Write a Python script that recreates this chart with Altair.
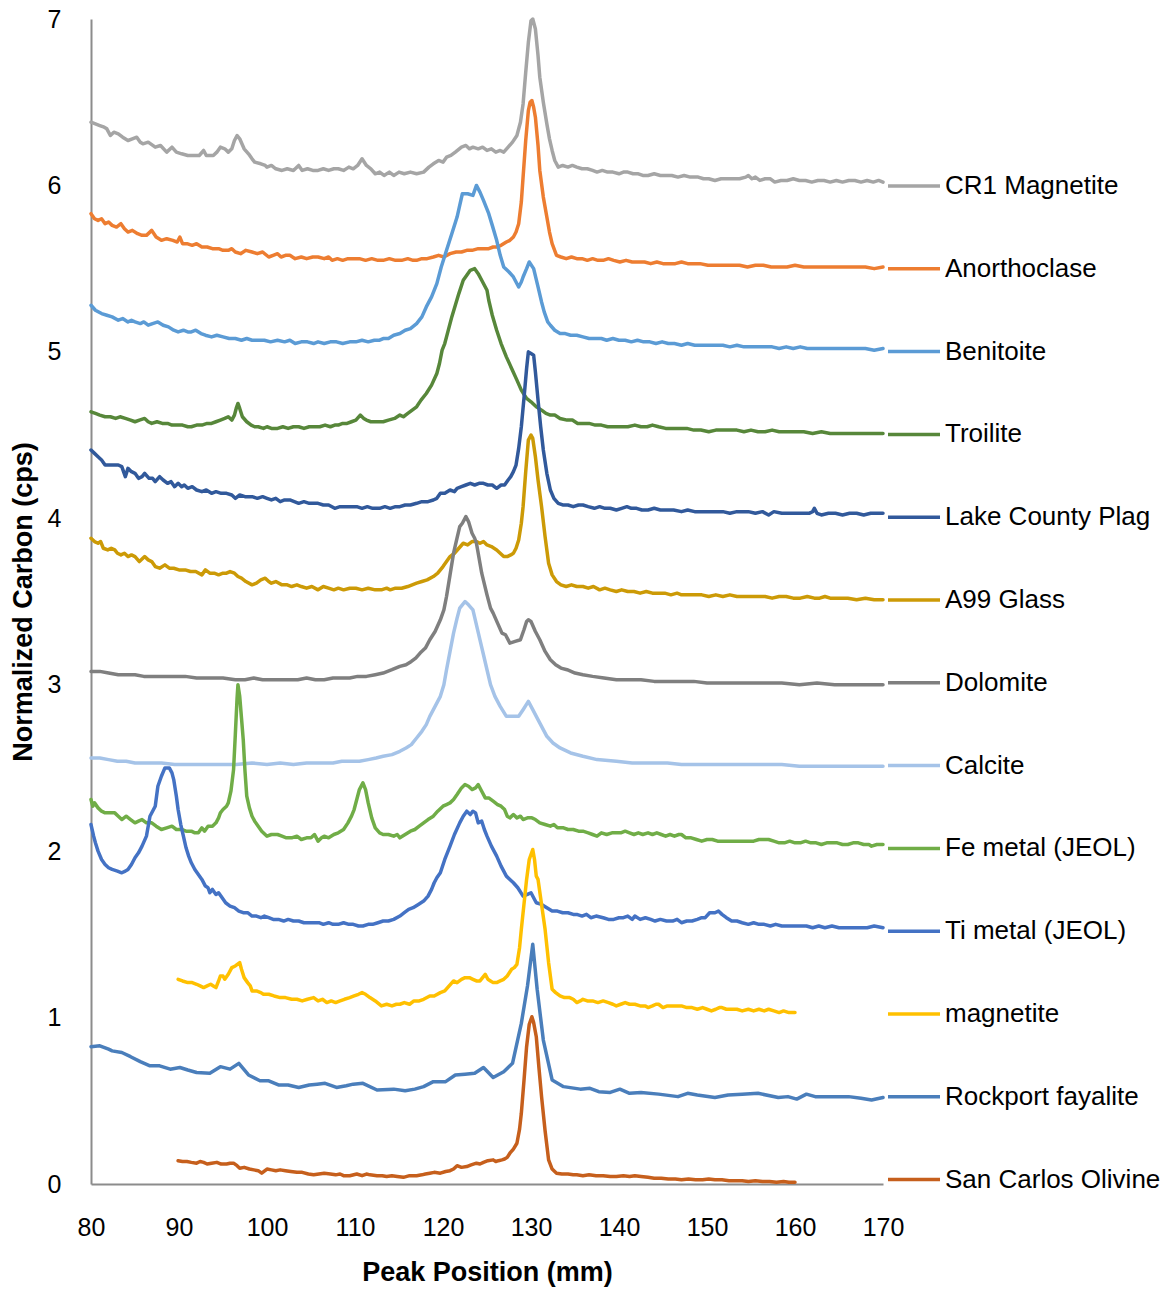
import altair as alt
import pandas as pd

# Sample names (legend order, top to bottom) and their line colours
SAMPLE_NAMES = [
    "CR1 Magnetite", "Anorthoclase", "Benitoite", "Troilite",
    "Lake County Plag", "A99 Glass", "Dolomite", "Calcite",
    "Fe metal (JEOL)", "Ti metal (JEOL)", "magnetite",
    "Rockport fayalite", "San Carlos Olivine",
]
SAMPLE_COLORS = [
    "#A5A5A5", "#ED7D31", "#5B9BD5", "#57873A",
    "#31599B", "#CC9A06", "#7F7F7F", "#A5C3E8",
    "#70AD47", "#4472C4", "#FFC000",
    "#4A7EBB", "#C65F1C",
]

X_TICKS = [80, 90, 100, 110, 120, 130, 140, 150, 160, 170]
Y_TICKS = [0, 1, 2, 3, 4, 5, 6, 7]

# (peak position mm, normalized carbon cps) for each scan
CR1_MAGNETITE = [
    (80.0, 6.38), (80.5, 6.37), (81.0, 6.36), (81.5, 6.35), (81.8, 6.34), (82.2, 6.30), (82.6, 6.32),
    (83.1, 6.31), (83.6, 6.29), (84.2, 6.27), (84.7, 6.28), (85.2, 6.29), (85.6, 6.26), (85.9, 6.25),
    (86.5, 6.26), (87.3, 6.23), (87.9, 6.24), (88.6, 6.20), (89.2, 6.23), (89.7, 6.20), (90.3, 6.19),
    (91.0, 6.18), (91.8, 6.18), (92.3, 6.18), (92.8, 6.21), (93.1, 6.18), (93.9, 6.18), (94.3, 6.20),
    (94.7, 6.23), (95.2, 6.22), (95.6, 6.20), (96.0, 6.22), (96.3, 6.27), (96.6, 6.30), (96.9, 6.28),
    (97.4, 6.22), (97.9, 6.19), (98.3, 6.16), (98.6, 6.14), (99.3, 6.13), (99.8, 6.12), (100.0, 6.11),
    (100.5, 6.12), (101.0, 6.10), (101.7, 6.09), (102.3, 6.10), (103.0, 6.09), (103.6, 6.12), (104.0, 6.09),
    (104.6, 6.10), (105.2, 6.09), (105.8, 6.09), (106.4, 6.10), (107.0, 6.09), (107.6, 6.10), (108.1, 6.10),
    (108.7, 6.09), (109.3, 6.11), (109.8, 6.10), (110.3, 6.12), (110.8, 6.16), (111.3, 6.12), (111.8, 6.10),
    (112.3, 6.07), (112.8, 6.08), (113.3, 6.06), (113.9, 6.08), (114.4, 6.06), (115.0, 6.08), (115.6, 6.07),
    (116.3, 6.08), (117.0, 6.07), (117.8, 6.08), (118.4, 6.11), (118.9, 6.13), (119.5, 6.15), (120.0, 6.14),
    (120.4, 6.17), (120.9, 6.18), (121.4, 6.20), (122.1, 6.23), (122.6, 6.24), (123.0, 6.22), (123.4, 6.23),
    (124.0, 6.22), (124.5, 6.23), (125.0, 6.21), (125.5, 6.22), (126.0, 6.20), (126.5, 6.21), (126.9, 6.20),
    (127.4, 6.23), (127.9, 6.26), (128.4, 6.30), (128.8, 6.38), (129.1, 6.49), (129.4, 6.68), (129.7, 6.86),
    (130.0, 6.99), (130.2, 7.00), (130.5, 6.94), (130.8, 6.78), (131.0, 6.65), (131.4, 6.50), (131.8, 6.37),
    (132.1, 6.28), (132.4, 6.21), (132.7, 6.15), (133.1, 6.11), (133.6, 6.12), (134.2, 6.11), (134.7, 6.12),
    (135.2, 6.11), (135.8, 6.10), (136.4, 6.10), (137.0, 6.09), (137.5, 6.08), (138.1, 6.09), (138.7, 6.08),
    (139.3, 6.08), (140.0, 6.07), (140.5, 6.08), (141.0, 6.08), (141.6, 6.07), (142.2, 6.07), (142.7, 6.06),
    (143.3, 6.06), (144.0, 6.07), (144.7, 6.06), (145.4, 6.06), (146.0, 6.06), (146.7, 6.05), (147.4, 6.06),
    (148.1, 6.05), (149.0, 6.05), (149.6, 6.04), (150.2, 6.04), (150.9, 6.03), (151.6, 6.04), (152.3, 6.04),
    (153.0, 6.04), (153.7, 6.04), (154.4, 6.05), (154.7, 6.06), (155.1, 6.04), (155.5, 6.05), (156.0, 6.03),
    (156.6, 6.04), (157.2, 6.04), (157.7, 6.02), (158.4, 6.03), (159.1, 6.03), (159.8, 6.04), (160.5, 6.03),
    (161.2, 6.03), (161.9, 6.02), (162.6, 6.03), (163.3, 6.03), (164.0, 6.02), (164.7, 6.03), (165.4, 6.02),
    (166.1, 6.03), (166.8, 6.03), (167.5, 6.02), (168.2, 6.03), (168.9, 6.02), (169.5, 6.03), (170.0, 6.02),
]

ANORTHOCLASE = [
    (80.0, 5.83), (80.4, 5.80), (80.8, 5.79), (81.2, 5.80), (81.6, 5.77), (82.0, 5.78), (82.4, 5.76),
    (82.9, 5.75), (83.4, 5.77), (83.8, 5.74), (84.2, 5.72), (84.7, 5.73), (85.3, 5.71), (85.8, 5.70),
    (86.3, 5.70), (86.9, 5.73), (87.4, 5.69), (88.0, 5.67), (88.6, 5.68), (89.3, 5.67), (89.8, 5.66),
    (90.1, 5.69), (90.4, 5.65), (90.9, 5.65), (91.5, 5.64), (92.0, 5.65), (92.6, 5.63), (93.2, 5.63),
    (93.8, 5.62), (94.5, 5.62), (95.0, 5.61), (95.6, 5.61), (96.0, 5.62), (96.4, 5.60), (97.0, 5.59),
    (97.6, 5.61), (98.3, 5.60), (98.9, 5.59), (99.5, 5.60), (100.2, 5.57), (100.7, 5.58), (101.2, 5.59),
    (101.6, 5.57), (102.1, 5.58), (102.6, 5.58), (103.2, 5.56), (103.9, 5.57), (104.5, 5.56), (105.2, 5.57),
    (105.8, 5.57), (106.5, 5.56), (107.0, 5.57), (107.4, 5.55), (108.0, 5.56), (108.6, 5.55), (109.2, 5.56),
    (109.8, 5.56), (110.5, 5.56), (111.2, 5.55), (111.9, 5.56), (112.6, 5.55), (113.2, 5.55), (113.9, 5.56),
    (114.6, 5.55), (115.3, 5.55), (116.0, 5.56), (116.6, 5.55), (117.0, 5.55), (117.6, 5.56), (118.2, 5.56),
    (118.9, 5.57), (119.5, 5.58), (120.1, 5.57), (120.8, 5.59), (121.5, 5.60), (122.1, 5.60), (122.7, 5.61),
    (123.3, 5.61), (124.0, 5.62), (124.6, 5.62), (125.2, 5.62), (125.7, 5.63), (126.1, 5.63), (126.6, 5.64),
    (127.2, 5.66), (127.6, 5.67), (128.0, 5.69), (128.3, 5.72), (128.6, 5.77), (128.9, 5.90), (129.1, 6.05),
    (129.4, 6.27), (129.7, 6.45), (129.9, 6.50), (130.1, 6.51), (130.3, 6.47), (130.5, 6.41), (130.8, 6.24),
    (131.0, 6.09), (131.4, 5.93), (131.8, 5.81), (132.1, 5.72), (132.4, 5.65), (132.9, 5.58), (133.4, 5.57),
    (134.0, 5.56), (134.6, 5.57), (135.2, 5.56), (135.8, 5.56), (136.4, 5.55), (137.0, 5.56), (137.6, 5.55),
    (138.2, 5.55), (138.8, 5.56), (139.4, 5.55), (140.1, 5.54), (140.8, 5.55), (141.5, 5.54), (142.2, 5.54),
    (142.9, 5.54), (143.6, 5.53), (144.3, 5.54), (145.0, 5.53), (145.7, 5.53), (146.4, 5.53), (147.1, 5.54),
    (147.8, 5.53), (148.5, 5.53), (149.2, 5.53), (150.1, 5.52), (151.0, 5.52), (151.9, 5.52), (152.8, 5.52),
    (153.7, 5.52), (154.6, 5.51), (155.5, 5.52), (156.4, 5.52), (157.3, 5.51), (158.2, 5.51), (159.1, 5.51),
    (160.0, 5.52), (161.0, 5.51), (162.0, 5.51), (163.0, 5.51), (164.0, 5.51), (165.0, 5.51), (166.0, 5.51),
    (167.0, 5.51), (168.0, 5.51), (169.0, 5.50), (170.0, 5.51),
]

BENITOITE = [
    (80.0, 5.28), (80.5, 5.25), (81.2, 5.23), (81.8, 5.22), (82.4, 5.21), (83.1, 5.19), (83.6, 5.20),
    (84.2, 5.18), (84.6, 5.19), (85.0, 5.18), (85.6, 5.17), (86.0, 5.18), (86.5, 5.16), (87.0, 5.17),
    (87.6, 5.18), (88.2, 5.16), (88.8, 5.15), (89.4, 5.13), (89.9, 5.12), (90.5, 5.13), (91.0, 5.12),
    (91.4, 5.12), (91.9, 5.13), (92.5, 5.11), (93.0, 5.10), (93.7, 5.09), (94.3, 5.10), (95.0, 5.09),
    (95.7, 5.08), (96.4, 5.08), (97.1, 5.07), (97.7, 5.08), (98.3, 5.07), (99.0, 5.07), (99.7, 5.07),
    (100.4, 5.06), (101.2, 5.07), (102.0, 5.06), (102.6, 5.07), (103.2, 5.05), (103.9, 5.06), (104.6, 5.06),
    (105.3, 5.05), (105.8, 5.06), (106.5, 5.05), (107.2, 5.06), (107.9, 5.06), (108.6, 5.05), (109.4, 5.06),
    (110.1, 5.06), (110.8, 5.07), (111.5, 5.06), (112.2, 5.07), (112.8, 5.07), (113.2, 5.08), (113.8, 5.08),
    (114.4, 5.10), (115.1, 5.11), (115.7, 5.13), (116.3, 5.14), (117.0, 5.17), (117.6, 5.21), (118.1, 5.27),
    (118.7, 5.33), (119.3, 5.41), (119.8, 5.51), (120.4, 5.61), (121.0, 5.71), (121.6, 5.81), (121.9, 5.88),
    (122.2, 5.95), (122.8, 5.95), (123.4, 5.94), (123.6, 5.97), (123.8, 6.00), (124.2, 5.96), (124.6, 5.91),
    (125.2, 5.83), (125.6, 5.76), (126.1, 5.67), (126.5, 5.58), (126.9, 5.51), (127.5, 5.48), (128.0, 5.45),
    (128.3, 5.42), (128.6, 5.39), (128.9, 5.42), (129.1, 5.45), (129.5, 5.50), (129.8, 5.54), (130.3, 5.50),
    (130.8, 5.39), (131.2, 5.30), (131.5, 5.24), (131.9, 5.18), (132.2, 5.16), (132.7, 5.13), (133.3, 5.11),
    (133.9, 5.11), (134.5, 5.10), (135.2, 5.10), (135.9, 5.09), (136.6, 5.08), (137.3, 5.08), (138.0, 5.08),
    (138.6, 5.07), (139.3, 5.08), (140.0, 5.07), (140.7, 5.07), (141.4, 5.06), (142.1, 5.07), (142.8, 5.06),
    (143.5, 5.06), (144.2, 5.05), (144.9, 5.06), (145.6, 5.05), (146.3, 5.05), (147.1, 5.04), (147.8, 5.05),
    (148.6, 5.04), (149.4, 5.04), (150.2, 5.04), (151.0, 5.04), (151.8, 5.04), (152.6, 5.03), (153.4, 5.04),
    (154.2, 5.03), (155.0, 5.03), (155.8, 5.03), (156.6, 5.03), (157.4, 5.03), (158.2, 5.02), (159.0, 5.03),
    (159.8, 5.02), (160.6, 5.03), (161.4, 5.02), (162.2, 5.02), (163.0, 5.02), (164.0, 5.02), (165.0, 5.02),
    (166.0, 5.02), (167.0, 5.02), (168.0, 5.02), (169.0, 5.01), (170.0, 5.02),
]

TROILITE = [
    (80.0, 4.64), (80.5, 4.63), (81.0, 4.62), (81.6, 4.61), (82.2, 4.61), (82.8, 4.60), (83.3, 4.61),
    (83.9, 4.60), (84.5, 4.59), (85.0, 4.58), (85.5, 4.59), (86.1, 4.60), (86.5, 4.58), (86.9, 4.57),
    (87.5, 4.58), (88.1, 4.57), (88.7, 4.57), (89.2, 4.56), (89.8, 4.56), (90.4, 4.56), (91.0, 4.55),
    (91.4, 4.55), (92.0, 4.56), (92.6, 4.56), (93.2, 4.57), (93.7, 4.57), (94.2, 4.58), (94.7, 4.59),
    (95.2, 4.60), (95.6, 4.61), (96.0, 4.59), (96.3, 4.62), (96.5, 4.66), (96.7, 4.69), (96.9, 4.66),
    (97.2, 4.61), (97.7, 4.58), (98.2, 4.56), (98.6, 4.55), (99.0, 4.55), (99.6, 4.54), (100.0, 4.55),
    (100.5, 4.54), (101.2, 4.54), (101.8, 4.55), (102.4, 4.54), (103.0, 4.55), (103.6, 4.55), (104.2, 4.54),
    (104.8, 4.55), (105.4, 4.55), (106.0, 4.55), (106.6, 4.56), (107.2, 4.55), (107.7, 4.56), (108.1, 4.56),
    (108.6, 4.57), (109.1, 4.57), (109.6, 4.58), (110.1, 4.59), (110.6, 4.62), (111.0, 4.60), (111.3, 4.59),
    (111.8, 4.58), (112.4, 4.58), (113.2, 4.58), (113.8, 4.59), (114.5, 4.60), (115.1, 4.62), (115.5, 4.61),
    (116.0, 4.63), (116.5, 4.65), (117.0, 4.67), (117.5, 4.71), (118.1, 4.75), (118.7, 4.80), (119.3, 4.87),
    (119.6, 4.93), (119.9, 5.01), (120.2, 5.05), (120.4, 5.09), (121.0, 5.21), (121.4, 5.28), (121.8, 5.35),
    (122.3, 5.43), (122.7, 5.46), (123.1, 5.49), (123.6, 5.50), (124.0, 5.47), (124.4, 5.43), (125.0, 5.37),
    (125.2, 5.31), (125.6, 5.22), (126.1, 5.13), (126.6, 5.05), (127.2, 4.97), (127.8, 4.90), (128.4, 4.83),
    (128.9, 4.77), (129.5, 4.72), (130.0, 4.70), (130.6, 4.67), (131.2, 4.65), (131.7, 4.63), (132.2, 4.62),
    (132.7, 4.62), (133.3, 4.60), (134.1, 4.59), (134.7, 4.59), (135.3, 4.57), (135.9, 4.57), (136.6, 4.57),
    (137.3, 4.56), (138.0, 4.56), (138.7, 4.55), (139.5, 4.55), (140.3, 4.55), (141.0, 4.55), (141.8, 4.56),
    (142.5, 4.55), (143.2, 4.55), (143.8, 4.56), (144.5, 4.55), (145.3, 4.54), (146.1, 4.54), (146.9, 4.54),
    (147.7, 4.54), (148.5, 4.53), (149.3, 4.53), (150.2, 4.52), (151.0, 4.53), (151.8, 4.53), (152.6, 4.53),
    (153.4, 4.53), (154.2, 4.52), (155.0, 4.53), (155.8, 4.52), (156.6, 4.52), (157.4, 4.53), (158.2, 4.52),
    (159.0, 4.52), (160.0, 4.52), (161.0, 4.52), (162.0, 4.51), (163.0, 4.52), (164.0, 4.51), (165.0, 4.51),
    (166.0, 4.51), (167.0, 4.51), (168.0, 4.51), (169.0, 4.51), (170.0, 4.51),
]

LAKE_COUNTY_PLAG = [
    (80.0, 4.41), (80.4, 4.39), (80.8, 4.37), (81.2, 4.35), (81.6, 4.32), (82.0, 4.32), (82.5, 4.32),
    (83.1, 4.32), (83.5, 4.31), (83.9, 4.25), (84.2, 4.30), (84.6, 4.28), (85.0, 4.27), (85.4, 4.24),
    (85.8, 4.25), (86.1, 4.27), (86.6, 4.24), (87.0, 4.24), (87.3, 4.22), (87.8, 4.25), (88.2, 4.23),
    (88.7, 4.21), (89.1, 4.22), (89.5, 4.19), (89.9, 4.21), (90.3, 4.19), (90.6, 4.20), (91.0, 4.18),
    (91.5, 4.19), (92.0, 4.17), (92.6, 4.16), (93.1, 4.17), (93.7, 4.15), (94.2, 4.16), (94.8, 4.15),
    (95.4, 4.15), (96.0, 4.14), (96.4, 4.12), (96.9, 4.14), (97.5, 4.13), (98.3, 4.13), (98.9, 4.12),
    (99.5, 4.13), (100.0, 4.12), (100.5, 4.11), (101.0, 4.12), (101.5, 4.10), (102.0, 4.11), (102.6, 4.11),
    (103.1, 4.10), (103.6, 4.09), (104.2, 4.10), (104.8, 4.09), (105.3, 4.09), (105.8, 4.09), (106.4, 4.08),
    (107.0, 4.08), (107.7, 4.06), (108.3, 4.07), (108.9, 4.07), (109.6, 4.07), (110.2, 4.07), (110.8, 4.06),
    (111.4, 4.07), (112.0, 4.06), (112.8, 4.06), (113.4, 4.07), (114.0, 4.06), (114.6, 4.07), (115.1, 4.07),
    (115.7, 4.08), (116.3, 4.08), (117.0, 4.09), (117.6, 4.10), (118.3, 4.10), (118.9, 4.11), (119.3, 4.12),
    (119.7, 4.15), (120.2, 4.15), (120.8, 4.17), (121.3, 4.16), (121.6, 4.18), (122.1, 4.19), (122.6, 4.20),
    (123.1, 4.21), (123.6, 4.20), (124.1, 4.21), (124.6, 4.21), (125.1, 4.20), (125.6, 4.20), (126.1, 4.18),
    (126.6, 4.20), (127.0, 4.20), (127.4, 4.23), (127.7, 4.25), (128.0, 4.28), (128.3, 4.32), (128.6, 4.42),
    (128.9, 4.55), (129.2, 4.72), (129.5, 4.90), (129.7, 5.00), (130.0, 4.99), (130.3, 4.98), (130.5, 4.88),
    (130.8, 4.71), (131.1, 4.55), (131.4, 4.41), (131.8, 4.27), (132.2, 4.17), (132.6, 4.12), (133.1, 4.09),
    (133.6, 4.08), (134.2, 4.08), (134.8, 4.07), (135.4, 4.08), (135.9, 4.08), (136.5, 4.07), (137.2, 4.06),
    (137.8, 4.07), (138.4, 4.06), (139.0, 4.06), (139.7, 4.05), (140.3, 4.06), (140.9, 4.07), (141.4, 4.06),
    (142.0, 4.06), (142.6, 4.05), (143.3, 4.05), (144.0, 4.06), (144.7, 4.05), (145.4, 4.05), (146.2, 4.05),
    (147.1, 4.04), (147.8, 4.05), (148.6, 4.04), (149.4, 4.04), (150.2, 4.04), (151.0, 4.04), (151.8, 4.04),
    (152.6, 4.03), (153.4, 4.04), (154.2, 4.04), (154.7, 4.04), (155.5, 4.03), (156.3, 4.04), (157.0, 4.02),
    (157.6, 4.04), (158.5, 4.03), (159.3, 4.03), (160.1, 4.03), (160.9, 4.03), (161.6, 4.03), (162.0, 4.04),
    (162.2, 4.06), (162.5, 4.03), (163.0, 4.02), (163.8, 4.03), (164.6, 4.03), (165.4, 4.02), (166.2, 4.03),
    (167.0, 4.03), (167.8, 4.02), (168.6, 4.03), (169.3, 4.03), (170.0, 4.03),
]

A99_GLASS = [
    (80.0, 3.88), (80.4, 3.86), (80.8, 3.85), (81.1, 3.86), (81.4, 3.82), (81.9, 3.81), (82.3, 3.82),
    (82.7, 3.81), (83.0, 3.79), (83.4, 3.78), (83.8, 3.79), (84.2, 3.77), (84.6, 3.78), (85.0, 3.77),
    (85.5, 3.74), (86.1, 3.77), (86.5, 3.75), (86.9, 3.74), (87.3, 3.71), (87.8, 3.70), (88.4, 3.72),
    (88.9, 3.70), (89.4, 3.70), (90.0, 3.69), (90.7, 3.69), (91.3, 3.68), (91.9, 3.68), (92.6, 3.66),
    (93.0, 3.69), (93.5, 3.67), (94.0, 3.67), (94.5, 3.66), (95.0, 3.67), (95.4, 3.67), (95.8, 3.68),
    (96.3, 3.67), (96.7, 3.65), (97.1, 3.64), (97.6, 3.62), (98.3, 3.60), (98.8, 3.61), (99.3, 3.63),
    (99.8, 3.64), (100.2, 3.62), (100.5, 3.61), (101.0, 3.62), (101.7, 3.60), (102.3, 3.60), (102.8, 3.59),
    (103.4, 3.60), (103.9, 3.59), (104.5, 3.58), (105.1, 3.59), (105.8, 3.57), (106.4, 3.59), (107.0, 3.58),
    (107.6, 3.57), (108.1, 3.58), (108.7, 3.57), (109.4, 3.58), (110.1, 3.58), (110.8, 3.57), (111.5, 3.58),
    (112.3, 3.57), (113.0, 3.57), (113.6, 3.58), (114.0, 3.57), (114.6, 3.58), (115.3, 3.58), (116.0, 3.59),
    (116.5, 3.60), (117.0, 3.61), (117.6, 3.62), (118.2, 3.63), (118.9, 3.65), (119.4, 3.67), (120.0, 3.71),
    (120.4, 3.74), (120.8, 3.77), (121.3, 3.79), (121.8, 3.82), (122.3, 3.85), (122.8, 3.84), (123.3, 3.86),
    (123.8, 3.86), (124.2, 3.85), (124.6, 3.86), (125.0, 3.84), (125.5, 3.83), (126.1, 3.81), (126.5, 3.79),
    (126.9, 3.77), (127.3, 3.77), (127.7, 3.78), (128.0, 3.79), (128.3, 3.82), (128.6, 3.87), (128.9, 3.97),
    (129.1, 4.07), (129.4, 4.28), (129.7, 4.47), (130.0, 4.50), (130.2, 4.48), (130.5, 4.37), (130.8, 4.23),
    (131.2, 4.07), (131.6, 3.89), (132.0, 3.73), (132.4, 3.66), (132.9, 3.62), (133.4, 3.60), (134.0, 3.59),
    (134.6, 3.60), (135.2, 3.59), (135.9, 3.59), (136.5, 3.58), (137.1, 3.59), (137.8, 3.57), (138.4, 3.58),
    (139.0, 3.57), (139.7, 3.56), (140.3, 3.57), (141.0, 3.56), (141.7, 3.56), (142.4, 3.55), (143.1, 3.56),
    (143.8, 3.55), (144.5, 3.55), (145.2, 3.55), (145.9, 3.54), (146.6, 3.55), (147.1, 3.54), (147.8, 3.54),
    (148.6, 3.54), (149.4, 3.54), (150.2, 3.53), (151.0, 3.54), (151.8, 3.53), (152.6, 3.54), (153.4, 3.53),
    (154.2, 3.53), (155.0, 3.53), (155.8, 3.53), (156.6, 3.53), (157.4, 3.52), (158.2, 3.53), (159.0, 3.53),
    (159.8, 3.52), (160.6, 3.52), (161.4, 3.53), (162.2, 3.52), (162.8, 3.52), (163.4, 3.53), (164.0, 3.52),
    (165.0, 3.52), (166.0, 3.52), (167.0, 3.51), (168.0, 3.52), (169.0, 3.51), (170.0, 3.51),
]

DOLOMITE = [
    (80.0, 3.08), (81.0, 3.08), (82.0, 3.07), (83.1, 3.06), (84.0, 3.06), (85.0, 3.06), (86.0, 3.05),
    (86.9, 3.05), (88.0, 3.05), (89.0, 3.05), (90.7, 3.05), (92.0, 3.04), (93.0, 3.04), (94.0, 3.04),
    (95.0, 3.04), (96.4, 3.03), (97.5, 3.03), (98.5, 3.04), (99.5, 3.03), (100.5, 3.03), (102.1, 3.03),
    (103.5, 3.03), (104.5, 3.04), (105.5, 3.03), (106.5, 3.03), (107.5, 3.04), (108.5, 3.04), (109.4, 3.04),
    (110.3, 3.05), (111.3, 3.05), (112.3, 3.06), (113.2, 3.07), (114.2, 3.09), (115.1, 3.11), (115.8, 3.12),
    (116.4, 3.14), (116.9, 3.16), (117.4, 3.19), (118.0, 3.22), (118.5, 3.27), (119.1, 3.32), (119.7, 3.39),
    (120.1, 3.45), (120.4, 3.53), (120.8, 3.66), (121.2, 3.79), (121.5, 3.86), (121.9, 3.95), (122.2, 3.97),
    (122.6, 4.01), (122.9, 3.98), (123.3, 3.91), (123.6, 3.88), (123.8, 3.85), (124.1, 3.76), (124.4, 3.67),
    (125.0, 3.54), (125.4, 3.46), (125.7, 3.43), (126.2, 3.37), (126.7, 3.31), (127.1, 3.30), (127.6, 3.25),
    (128.2, 3.26), (128.8, 3.27), (129.2, 3.33), (129.5, 3.38), (129.7, 3.39), (130.0, 3.38), (130.5, 3.32),
    (131.0, 3.27), (131.6, 3.20), (132.2, 3.15), (132.8, 3.12), (133.4, 3.10), (134.1, 3.09), (135.0, 3.07),
    (135.9, 3.06), (137.0, 3.05), (138.3, 3.04), (139.7, 3.03), (141.0, 3.03), (142.5, 3.03), (144.0, 3.02),
    (145.5, 3.02), (147.1, 3.02), (148.5, 3.02), (150.0, 3.01), (151.5, 3.01), (153.0, 3.01), (154.7, 3.01),
    (156.5, 3.01), (158.5, 3.01), (160.5, 3.00), (162.5, 3.01), (164.5, 3.00), (166.5, 3.00), (168.5, 3.00),
    (170.0, 3.00),
]

CALCITE = [
    (80.0, 2.56), (81.0, 2.56), (82.0, 2.55), (83.0, 2.54), (84.0, 2.54), (85.0, 2.53), (86.5, 2.53),
    (88.0, 2.53), (89.5, 2.52), (90.7, 2.52), (92.0, 2.52), (93.5, 2.52), (95.0, 2.52), (96.5, 2.52),
    (98.3, 2.53), (100.0, 2.52), (101.5, 2.53), (103.0, 2.52), (104.5, 2.53), (106.0, 2.53), (107.5, 2.53),
    (108.5, 2.54), (109.4, 2.54), (110.5, 2.54), (111.5, 2.55), (112.4, 2.56), (113.2, 2.57), (114.2, 2.58),
    (115.1, 2.60), (115.8, 2.62), (116.4, 2.64), (117.0, 2.68), (117.6, 2.72), (118.1, 2.76), (118.5, 2.81),
    (119.1, 2.87), (119.7, 2.93), (120.1, 3.00), (120.4, 3.09), (120.8, 3.20), (121.2, 3.31), (121.6, 3.40),
    (121.9, 3.46), (122.2, 3.48), (122.5, 3.50), (122.9, 3.48), (123.4, 3.45), (123.8, 3.36), (124.2, 3.27),
    (124.6, 3.18), (125.0, 3.09), (125.4, 3.00), (125.9, 2.93), (126.5, 2.87), (127.2, 2.81), (127.9, 2.81),
    (128.6, 2.81), (129.1, 2.85), (129.7, 2.90), (130.2, 2.85), (130.6, 2.81), (131.2, 2.75), (131.8, 2.69),
    (132.5, 2.65), (133.3, 2.62), (134.5, 2.59), (135.9, 2.57), (137.5, 2.55), (139.7, 2.54), (141.5, 2.53),
    (143.5, 2.53), (145.5, 2.53), (147.1, 2.52), (149.5, 2.52), (152.0, 2.52), (154.5, 2.52), (156.5, 2.52),
    (158.5, 2.52), (160.5, 2.51), (162.5, 2.51), (164.5, 2.51), (166.5, 2.51), (168.5, 2.51), (170.0, 2.51),
]

FE_METAL_JEOL = [
    (80.0, 2.31), (80.2, 2.27), (80.4, 2.29), (80.8, 2.26), (81.2, 2.24), (81.6, 2.23), (82.2, 2.23),
    (82.7, 2.23), (83.1, 2.21), (83.5, 2.19), (84.0, 2.21), (84.5, 2.19), (85.0, 2.17), (85.4, 2.18),
    (85.8, 2.19), (86.3, 2.17), (86.9, 2.17), (87.4, 2.15), (88.0, 2.13), (88.6, 2.14), (89.2, 2.15),
    (89.7, 2.13), (90.3, 2.13), (90.8, 2.12), (91.4, 2.12), (91.8, 2.11), (92.2, 2.11), (92.6, 2.14),
    (92.9, 2.12), (93.3, 2.15), (93.8, 2.15), (94.2, 2.17), (94.5, 2.20), (94.7, 2.23), (95.0, 2.25),
    (95.4, 2.27), (95.6, 2.29), (95.9, 2.36), (96.2, 2.49), (96.4, 2.70), (96.6, 2.92), (96.7, 3.00),
    (96.9, 2.93), (97.1, 2.80), (97.3, 2.67), (97.5, 2.48), (97.7, 2.33), (98.0, 2.26), (98.3, 2.21),
    (98.6, 2.18), (99.0, 2.15), (99.4, 2.12), (100.0, 2.09), (100.5, 2.10), (101.2, 2.10), (101.7, 2.09),
    (102.2, 2.08), (102.8, 2.08), (103.4, 2.09), (103.9, 2.07), (104.5, 2.08), (105.0, 2.08), (105.4, 2.10),
    (105.8, 2.06), (106.2, 2.08), (106.5, 2.09), (107.0, 2.08), (107.6, 2.10), (108.1, 2.11), (108.7, 2.13),
    (109.2, 2.17), (109.6, 2.21), (109.9, 2.25), (110.2, 2.31), (110.5, 2.37), (110.9, 2.41), (111.2, 2.37),
    (111.5, 2.29), (111.9, 2.20), (112.3, 2.14), (112.8, 2.11), (113.2, 2.10), (113.8, 2.10), (114.4, 2.09),
    (114.8, 2.10), (115.1, 2.08), (115.7, 2.10), (116.3, 2.12), (116.8, 2.13), (117.3, 2.15), (117.8, 2.17),
    (118.3, 2.19), (118.9, 2.21), (119.4, 2.24), (120.0, 2.27), (120.4, 2.28), (120.8, 2.29), (121.2, 2.31),
    (121.6, 2.34), (122.1, 2.38), (122.5, 2.40), (122.9, 2.39), (123.3, 2.37), (123.7, 2.38), (124.0, 2.40),
    (124.4, 2.36), (124.8, 2.32), (125.2, 2.32), (125.7, 2.30), (126.2, 2.28), (126.6, 2.27), (127.0, 2.25),
    (127.3, 2.21), (127.6, 2.20), (128.0, 2.22), (128.4, 2.20), (128.8, 2.21), (129.1, 2.19), (129.6, 2.20),
    (130.1, 2.20), (130.5, 2.19), (131.0, 2.17), (131.6, 2.16), (132.2, 2.15), (132.6, 2.16), (133.0, 2.14),
    (133.7, 2.14), (134.2, 2.13), (134.8, 2.13), (135.4, 2.12), (135.9, 2.12), (136.5, 2.11), (137.0, 2.10),
    (137.5, 2.09), (138.0, 2.11), (138.6, 2.10), (139.2, 2.11), (139.7, 2.11), (140.2, 2.11), (140.7, 2.12),
    (141.2, 2.11), (141.7, 2.10), (142.2, 2.11), (142.7, 2.10), (143.3, 2.11), (143.8, 2.10), (144.3, 2.11),
    (144.8, 2.10), (145.3, 2.09), (145.8, 2.10), (146.3, 2.09), (146.8, 2.10), (147.1, 2.10), (147.6, 2.08),
    (148.2, 2.08), (148.8, 2.07), (149.4, 2.06), (150.0, 2.07), (150.6, 2.07), (151.2, 2.06), (151.8, 2.06),
    (152.4, 2.06), (153.0, 2.06), (153.6, 2.06), (154.2, 2.06), (154.7, 2.06), (155.3, 2.06), (155.9, 2.07),
    (156.5, 2.07), (157.0, 2.07), (157.6, 2.06), (158.2, 2.05), (158.8, 2.05), (159.4, 2.06), (160.0, 2.05),
    (160.6, 2.05), (161.2, 2.06), (161.8, 2.05), (162.4, 2.05), (163.0, 2.04), (163.6, 2.05), (164.2, 2.05),
    (164.8, 2.05), (165.4, 2.04), (166.0, 2.04), (166.6, 2.05), (167.2, 2.05), (167.8, 2.04), (168.4, 2.04),
    (168.7, 2.03), (169.3, 2.04), (170.0, 2.04),
]

TI_METAL_JEOL = [
    (80.0, 2.16), (80.3, 2.09), (80.5, 2.05), (80.8, 2.00), (81.2, 1.95), (81.6, 1.92), (82.0, 1.90),
    (82.4, 1.89), (83.0, 1.88), (83.5, 1.87), (83.9, 1.88), (84.2, 1.89), (84.6, 1.92), (85.0, 1.96),
    (85.4, 1.99), (85.8, 2.03), (86.3, 2.09), (86.5, 2.15), (86.7, 2.21), (87.0, 2.24), (87.3, 2.27),
    (87.6, 2.39), (88.0, 2.45), (88.4, 2.50), (88.9, 2.50), (89.2, 2.47), (89.4, 2.43), (89.7, 2.33),
    (89.9, 2.25), (90.2, 2.16), (90.5, 2.09), (90.8, 2.02), (91.1, 1.97), (91.4, 1.93), (91.8, 1.89),
    (92.2, 1.86), (92.6, 1.83), (93.0, 1.79), (93.3, 1.78), (93.5, 1.75), (93.8, 1.77), (94.2, 1.74),
    (94.5, 1.75), (94.9, 1.72), (95.3, 1.69), (95.8, 1.67), (96.3, 1.66), (96.8, 1.64), (97.3, 1.63),
    (97.8, 1.63), (98.3, 1.61), (98.8, 1.61), (99.3, 1.60), (99.7, 1.61), (100.2, 1.60), (100.7, 1.59),
    (101.3, 1.59), (101.9, 1.58), (102.4, 1.59), (103.0, 1.58), (103.6, 1.58), (104.2, 1.57), (104.8, 1.57),
    (105.3, 1.57), (105.9, 1.57), (106.4, 1.56), (107.0, 1.57), (107.5, 1.56), (108.1, 1.56), (108.7, 1.57),
    (109.3, 1.56), (109.8, 1.56), (110.4, 1.55), (110.9, 1.55), (111.5, 1.56), (112.0, 1.56), (112.6, 1.57),
    (113.2, 1.58), (113.8, 1.58), (114.4, 1.59), (115.1, 1.61), (115.6, 1.63), (116.1, 1.65), (116.6, 1.66),
    (117.2, 1.68), (117.8, 1.70), (118.3, 1.73), (118.7, 1.77), (119.0, 1.81), (119.3, 1.84), (119.7, 1.87),
    (120.2, 1.95), (120.8, 2.03), (121.3, 2.10), (121.9, 2.17), (122.3, 2.21), (122.7, 2.24), (123.1, 2.22),
    (123.4, 2.24), (123.7, 2.23), (124.0, 2.17), (124.4, 2.18), (124.7, 2.13), (125.0, 2.09), (125.5, 2.03),
    (126.1, 1.97), (126.6, 1.91), (127.2, 1.85), (127.6, 1.83), (128.0, 1.81), (128.5, 1.78), (129.1, 1.73),
    (129.6, 1.74), (130.0, 1.75), (130.3, 1.72), (130.6, 1.69), (131.2, 1.68), (131.8, 1.66), (132.4, 1.64),
    (133.0, 1.64), (133.6, 1.63), (134.2, 1.63), (134.8, 1.62), (135.2, 1.62), (135.8, 1.61), (136.3, 1.62),
    (136.8, 1.60), (137.4, 1.61), (138.2, 1.60), (138.8, 1.59), (139.4, 1.59), (140.0, 1.60), (140.5, 1.60),
    (141.0, 1.61), (141.5, 1.59), (141.8, 1.61), (142.4, 1.59), (143.0, 1.60), (143.6, 1.59), (144.1, 1.58),
    (144.7, 1.59), (145.4, 1.58), (146.1, 1.58), (146.6, 1.59), (147.1, 1.57), (147.7, 1.58), (148.3, 1.58),
    (148.9, 1.59), (149.4, 1.60), (149.8, 1.60), (150.3, 1.63), (150.9, 1.63), (151.3, 1.64), (151.7, 1.62),
    (152.2, 1.60), (152.8, 1.58), (153.4, 1.58), (154.0, 1.57), (154.7, 1.56), (155.3, 1.57), (155.9, 1.56),
    (156.5, 1.56), (157.2, 1.55), (157.8, 1.56), (158.5, 1.55), (159.2, 1.55), (159.9, 1.55), (160.6, 1.55),
    (161.3, 1.55), (162.0, 1.54), (162.7, 1.55), (163.4, 1.54), (164.2, 1.55), (165.0, 1.54), (165.8, 1.54),
    (166.6, 1.54), (167.4, 1.54), (168.2, 1.54), (169.0, 1.55), (170.0, 1.54),
]

MAGNETITE = [
    (89.9, 1.23), (90.4, 1.22), (91.0, 1.21), (91.5, 1.21), (92.0, 1.20), (92.4, 1.19), (92.8, 1.18),
    (93.2, 1.19), (93.6, 1.20), (93.9, 1.19), (94.2, 1.18), (94.5, 1.22), (94.7, 1.25), (95.0, 1.25),
    (95.2, 1.23), (95.6, 1.26), (96.0, 1.30), (96.4, 1.31), (96.9, 1.33), (97.1, 1.29), (97.4, 1.24),
    (97.8, 1.21), (98.1, 1.19), (98.3, 1.16), (98.8, 1.16), (99.3, 1.15), (99.6, 1.14), (100.2, 1.14),
    (100.8, 1.13), (101.5, 1.12), (102.1, 1.12), (102.8, 1.11), (103.4, 1.11), (104.0, 1.10), (104.6, 1.11),
    (105.3, 1.12), (105.8, 1.10), (106.3, 1.11), (106.8, 1.09), (107.3, 1.10), (107.8, 1.09), (108.3, 1.10),
    (108.8, 1.11), (109.4, 1.12), (109.9, 1.13), (110.4, 1.14), (110.8, 1.15), (111.2, 1.14), (111.7, 1.12),
    (112.3, 1.10), (113.0, 1.07), (113.6, 1.08), (114.2, 1.07), (114.7, 1.08), (115.1, 1.08), (115.6, 1.09),
    (116.2, 1.08), (116.7, 1.10), (117.3, 1.10), (117.8, 1.11), (118.5, 1.13), (119.0, 1.13), (119.7, 1.15),
    (120.2, 1.16), (120.7, 1.19), (121.2, 1.22), (121.6, 1.21), (122.1, 1.23), (122.5, 1.24), (123.0, 1.24),
    (123.4, 1.23), (123.8, 1.22), (124.2, 1.22), (124.5, 1.24), (124.8, 1.26), (125.1, 1.23), (125.4, 1.22),
    (125.7, 1.21), (126.1, 1.21), (126.5, 1.22), (126.9, 1.23), (127.3, 1.25), (127.8, 1.29), (128.1, 1.30),
    (128.4, 1.32), (128.7, 1.42), (128.9, 1.53), (129.2, 1.68), (129.5, 1.83), (129.8, 1.95), (130.2, 2.01),
    (130.4, 1.95), (130.6, 1.85), (130.8, 1.83), (131.2, 1.68), (131.6, 1.53), (132.0, 1.33), (132.4, 1.17),
    (132.8, 1.15), (133.3, 1.13), (133.8, 1.12), (134.4, 1.12), (134.8, 1.11), (135.2, 1.09), (135.6, 1.10),
    (135.9, 1.11), (136.4, 1.10), (137.0, 1.10), (137.6, 1.09), (138.2, 1.10), (138.8, 1.09), (139.3, 1.08),
    (139.7, 1.07), (140.2, 1.08), (140.7, 1.09), (141.2, 1.08), (141.8, 1.08), (142.4, 1.07), (143.0, 1.07),
    (143.3, 1.06), (143.8, 1.07), (144.2, 1.08), (144.5, 1.08), (145.0, 1.06), (145.5, 1.07), (146.0, 1.07),
    (146.6, 1.07), (147.1, 1.07), (147.7, 1.06), (148.3, 1.06), (148.9, 1.05), (149.5, 1.06), (150.0, 1.05),
    (150.5, 1.04), (151.0, 1.05), (151.4, 1.06), (151.7, 1.06), (152.2, 1.05), (152.8, 1.05), (153.4, 1.05),
    (154.0, 1.04), (154.7, 1.05), (155.3, 1.04), (155.9, 1.05), (156.5, 1.04), (157.0, 1.05), (157.6, 1.04),
    (158.2, 1.03), (158.7, 1.04), (159.3, 1.03), (160.0, 1.03),
]

ROCKPORT_FAYALITE = [
    (80.0, 0.825), (81.0, 0.830), (82.0, 0.810), (82.4, 0.800), (83.5, 0.790), (84.5, 0.765), (85.6, 0.735),
    (86.7, 0.710), (87.8, 0.710), (89.0, 0.690), (90.1, 0.700), (91.0, 0.685), (92.0, 0.670), (93.5, 0.665),
    (94.7, 0.705), (95.8, 0.690), (96.8, 0.725), (97.9, 0.655), (99.2, 0.620), (100.2, 0.620), (101.3, 0.595),
    (102.4, 0.595), (103.6, 0.580), (104.8, 0.595), (105.7, 0.600), (106.6, 0.605), (107.9, 0.580),
    (109.0, 0.590), (109.8, 0.600), (110.9, 0.605), (112.5, 0.565), (114.4, 0.570), (115.7, 0.560),
    (116.8, 0.570), (117.8, 0.585), (118.9, 0.615), (120.3, 0.615), (121.4, 0.655), (122.5, 0.660),
    (123.6, 0.665), (124.6, 0.700), (125.7, 0.640), (126.9, 0.675), (127.9, 0.725), (128.9, 0.965),
    (129.6, 1.190), (130.2, 1.440), (130.7, 1.170), (131.4, 0.865), (132.4, 0.625), (133.7, 0.585),
    (135.6, 0.570), (136.7, 0.575), (137.7, 0.555), (139.0, 0.550), (140.1, 0.570), (141.2, 0.545),
    (142.5, 0.550), (144.5, 0.540), (146.7, 0.525), (147.8, 0.545), (148.9, 0.535), (150.9, 0.520),
    (152.4, 0.535), (154.0, 0.540), (155.8, 0.545), (158.1, 0.520), (159.2, 0.525), (160.2, 0.510),
    (161.3, 0.540), (162.3, 0.525), (164.0, 0.525), (166.1, 0.525), (167.5, 0.515), (168.7, 0.505),
    (170.0, 0.520),
]

SAN_CARLOS_OLIVINE = [
    (89.9, 0.140), (90.4, 0.135), (90.9, 0.135), (91.4, 0.130), (92.0, 0.125), (92.4, 0.135), (92.8, 0.130),
    (93.2, 0.120), (93.7, 0.125), (94.3, 0.130), (94.8, 0.120), (95.4, 0.120), (95.8, 0.125), (96.2, 0.125),
    (96.6, 0.110), (96.9, 0.095), (97.4, 0.100), (98.0, 0.090), (98.5, 0.085), (99.0, 0.080), (99.4, 0.065),
    (100.0, 0.090), (100.5, 0.085), (101.0, 0.080), (101.5, 0.085), (102.1, 0.080), (102.7, 0.075),
    (103.4, 0.070), (104.0, 0.070), (104.7, 0.060), (105.3, 0.055), (105.9, 0.060), (106.5, 0.065),
    (107.2, 0.060), (107.8, 0.055), (108.3, 0.060), (108.7, 0.050), (109.4, 0.050), (110.2, 0.060),
    (110.8, 0.050), (111.3, 0.060), (111.7, 0.055), (112.5, 0.050), (113.1, 0.050), (113.6, 0.045),
    (114.2, 0.050), (114.8, 0.045), (115.5, 0.040), (116.2, 0.050), (117.0, 0.050), (117.6, 0.055),
    (118.0, 0.060), (118.5, 0.065), (119.0, 0.070), (119.7, 0.065), (120.3, 0.075), (120.8, 0.080),
    (121.2, 0.090), (121.6, 0.110), (122.1, 0.100), (122.7, 0.105), (123.2, 0.115), (123.8, 0.125),
    (124.2, 0.120), (124.6, 0.130), (125.1, 0.140), (125.7, 0.145), (126.0, 0.135), (126.3, 0.140),
    (126.7, 0.145), (127.0, 0.150), (127.3, 0.160), (127.6, 0.185), (128.0, 0.210), (128.4, 0.245),
    (128.7, 0.330), (128.9, 0.425), (129.2, 0.620), (129.5, 0.825), (129.8, 0.960), (130.1, 1.005),
    (130.3, 0.970), (130.6, 0.885), (130.9, 0.700), (131.2, 0.525), (131.6, 0.320), (132.0, 0.145),
    (132.4, 0.090), (132.9, 0.065), (133.5, 0.060), (134.2, 0.060), (134.8, 0.055), (135.2, 0.055),
    (135.9, 0.050), (136.6, 0.055), (137.4, 0.050), (138.2, 0.050), (139.0, 0.045), (139.7, 0.045),
    (140.5, 0.050), (141.2, 0.045), (141.8, 0.050), (142.5, 0.045), (143.3, 0.040), (144.0, 0.035),
    (144.8, 0.035), (145.6, 0.030), (146.4, 0.030), (147.1, 0.025), (147.9, 0.030), (148.7, 0.025),
    (149.5, 0.025), (150.2, 0.030), (150.9, 0.025), (151.7, 0.025), (152.5, 0.020), (153.3, 0.020),
    (154.0, 0.020), (154.7, 0.015), (155.5, 0.020), (156.3, 0.015), (157.1, 0.015), (157.9, 0.010),
    (158.7, 0.015), (159.3, 0.010), (160.0, 0.010),
]

SPECTRA = [
    CR1_MAGNETITE, ANORTHOCLASE, BENITOITE, TROILITE, LAKE_COUNTY_PLAG, A99_GLASS,
    DOLOMITE, CALCITE, FE_METAL_JEOL, TI_METAL_JEOL, MAGNETITE, ROCKPORT_FAYALITE,
    SAN_CARLOS_OLIVINE,
]

rows = []
for name, points in zip(SAMPLE_NAMES, SPECTRA):
    for pos, carbon in points:
        rows.append({"position": pos, "carbon": carbon, "sample": name})
df = pd.DataFrame(rows)

FONT = "Liberation Sans"
AXIS_GREY = "#8C8C8C"
LINE_WIDTH = 3.5

chart = (
    alt.Chart(df)
    .mark_line(strokeWidth=LINE_WIDTH, strokeJoin="round", strokeCap="round")
    .encode(
        x=alt.X(
            "position:Q",
            scale=alt.Scale(domain=[80, 170], nice=False, zero=False),
            axis=alt.Axis(
                values=X_TICKS, title="Peak Position (mm)", grid=False, ticks=False,
                domainColor=AXIS_GREY, domainWidth=2, labelFontSize=25, labelFont=FONT,
                labelColor="#000000", labelPadding=31, titleFont=FONT, titleFontSize=27,
                titleFontWeight="bold", titleColor="#000000", titlePadding=19,
                labelFlush=False,
            ),
        ),
        y=alt.Y(
            "carbon:Q",
            scale=alt.Scale(domain=[0, 7], nice=False),
            axis=alt.Axis(
                values=Y_TICKS, title="Normalized Carbon (cps)", grid=False, ticks=False,
                domainColor=AXIS_GREY, domainWidth=2, labelFontSize=25, labelFont=FONT,
                labelColor="#000000", labelPadding=30, titleFont=FONT, titleFontSize=27,
                titleFontWeight="bold", titleColor="#000000", titlePadding=10,
                labelFlush=False,
            ),
        ),
        color=alt.Color(
            "sample:N",
            scale=alt.Scale(domain=SAMPLE_NAMES, range=SAMPLE_COLORS),
            legend=alt.Legend(
                title=None, orient="none", legendX=795, legendY=139, padding=0,
                symbolType="stroke", symbolSize=2704, symbolStrokeWidth=LINE_WIDTH,
                labelFont=FONT, labelFontSize=26, labelColor="#000000", labelOffset=3,
                labelLimit=400, rowPadding=41.8,
            ),
        ),
    )
    .properties(
        width=792,
        height=1165,
        autosize=alt.AutoSizeParams(type="none"),
        padding={"left": 91, "top": 19, "right": 288, "bottom": 107},
    )
    .configure_view(strokeWidth=0)
)

chart.save("out.html", embed_options={"renderer": "svg", "actions": False})
